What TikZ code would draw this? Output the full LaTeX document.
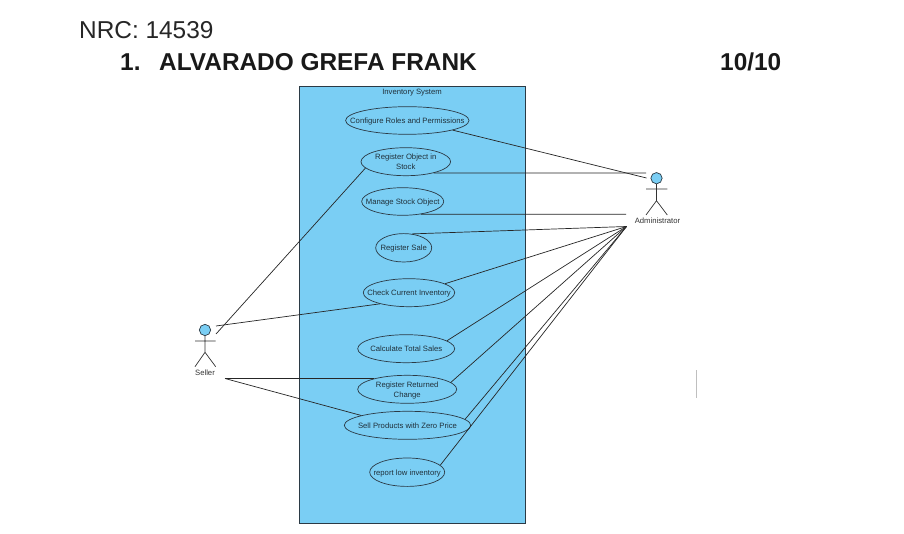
\documentclass[tikz,border=0pt]{standalone}
\usepackage{fontspec}
\setmainfont{Liberation Sans}
\usetikzlibrary{shapes.geometric}
\definecolor{sysblue}{HTML}{7ACEF4}
\definecolor{edge}{HTML}{2B3A45}
\definecolor{inktext}{HTML}{20303A}
\newcommand{\uct}[1]{\makebox[0pt]{\raisebox{-2.9pt}[4pt][4pt]{\begin{tabular}{@{}c@{}}#1\end{tabular}}}}
\tikzset{
  x=1pt,y=-1pt,
  usecase/.style={ellipse,draw=edge,line width=.7pt,inner sep=0pt,font=\fontsize{7.7}{10.3}\selectfont,text=inktext},
  link/.style={draw=black!85,line width=.7pt},
  stick/.style={draw=black!80,line width=.7pt},
  actorhead/.style={circle,draw=edge,fill=sysblue,line width=.7pt,minimum size=11.3pt,inner sep=0pt},
  actorname/.style={font=\fontsize{7.7}{9}\selectfont,text=black!80},
  slide/.style={font=\fontsize{24.4}{28}\selectfont,anchor=base west,inner sep=0pt,text=black!85},
  slidebold/.style={font=\fontsize{24.4}{28}\selectfont\bfseries,anchor=base west,inner sep=0pt,text=black!90},
}
\begin{document}
\begin{tikzpicture}
\useasboundingbox (0,0) rectangle (904,534);
\fill[white] (0,0) rectangle (904,534);
\node[slide] (nrc) at (79,38.5) {NRC: 14539};
\node[slidebold] (num) at (120,70.5) {1.};
\node[slidebold] (name) at (159,70.5) {ALVARADO GREFA FRANK};
\node[slidebold] (score) at (720,70.5) {10/10};
\draw[draw=edge,fill=sysblue,line width=.8pt] (299.5,86) rectangle (525.5,523);
\node[font=\fontsize{7.7}{9}\selectfont,text=inktext] (sys) at (412,93) {Inventory System};

\node[usecase,minimum width=123.4pt,minimum height=27.6pt] (cfg) at (407.3,120.5) {\uct{Configure Roles and Permissions}};
\node[usecase,minimum width=89.6pt,minimum height=28pt] (rob) at (405.8,161.7) {\uct{Register Object in\\Stock}};
\node[usecase,minimum width=82pt,minimum height=27.6pt] (man) at (402.7,201.5) {\uct{Manage Stock Object}};
\node[usecase,minimum width=56pt,minimum height=28.4pt] (sal) at (403.7,247.8) {\uct{Register Sale}};
\node[usecase,minimum width=91.4pt,minimum height=28pt] (chk) at (409,292.7) {\uct{Check Current Inventory}};
\node[usecase,minimum width=97pt,minimum height=28pt] (cal) at (406.2,348.7) {\uct{Calculate Total Sales}};
\node[usecase,minimum width=99pt,minimum height=28pt] (ret) at (407.2,389.3) {\uct{Register Returned\\Change}};
\node[usecase,minimum width=126.4pt,minimum height=28pt] (zer) at (407.5,425.3) {\uct{Sell Products with Zero Price}};
\node[usecase,minimum width=75pt,minimum height=28.4pt] (low) at (407.2,472.2) {\uct{report low inventory}};

% Administrator
\node[actorhead] (admhead) at (656.5,178.2) {};
\coordinate (admhip) at (656.5,200.7);
\coordinate (admarml) at (646,189);
\coordinate (admarmr) at (667.3,189);
\coordinate (admlegl) at (646,215);
\coordinate (admlegr) at (667.3,215);
\draw[stick] (admhead) -- (admhip) (admarml) -- (admarmr) (admlegl) -- (admhip) -- (admlegr);
\node[actorname] (admname) at (657.5,220.5) {Administrator};

% Seller
\node[actorhead] (selhead) at (205,330) {};
\coordinate (selhip) at (205,352.3);
\coordinate (selarml) at (195,341);
\coordinate (selarmr) at (215.7,341);
\coordinate (sellegl) at (195,366.7);
\coordinate (sellegr) at (215.7,366.7);
\draw[stick] (selhead) -- (selhip) (selarml) -- (selarmr) (sellegl) -- (selhip) -- (sellegr);
\node[actorname] (selname) at (205,372.5) {Seller};

% Connector ends
\coordinate (admA) at (646.5,178);
\coordinate (admB) at (646,173);
\coordinate (admC) at (626,214.3);
\coordinate (admD) at (626.5,226.5);
\coordinate (selA) at (216,334);
\coordinate (selB) at (216,326);
\coordinate (selC) at (225,378.5);

\draw[link] (cfg.-12.6) -- (admA);
\draw[link] (rob.-22) -- (admB);
\draw[link] (man.-35) -- (admC);
\draw[link] (sal.59) -- (admD);
\draw[link] (chk.14) -- (admD);
\draw[link] (cal.11) -- (admD);
\draw[link] (ret.9.5) -- (admD);
\draw[link] (zer.6) -- (admD);
\draw[link] (low.12) -- (admD);
\draw[link] (selA) -- (rob.189);
\draw[link] (selB) -- (chk.201);
\draw[link] (selC) -- (ret.162.6);
\draw[link] (selC) -- (zer.168.5);

\coordinate (marktop) at (696.5,370);
\coordinate (markbot) at (696.5,398);
\draw[draw=black!25,line width=1.8pt] (marktop) -- (markbot);
\end{tikzpicture}
\end{document}
